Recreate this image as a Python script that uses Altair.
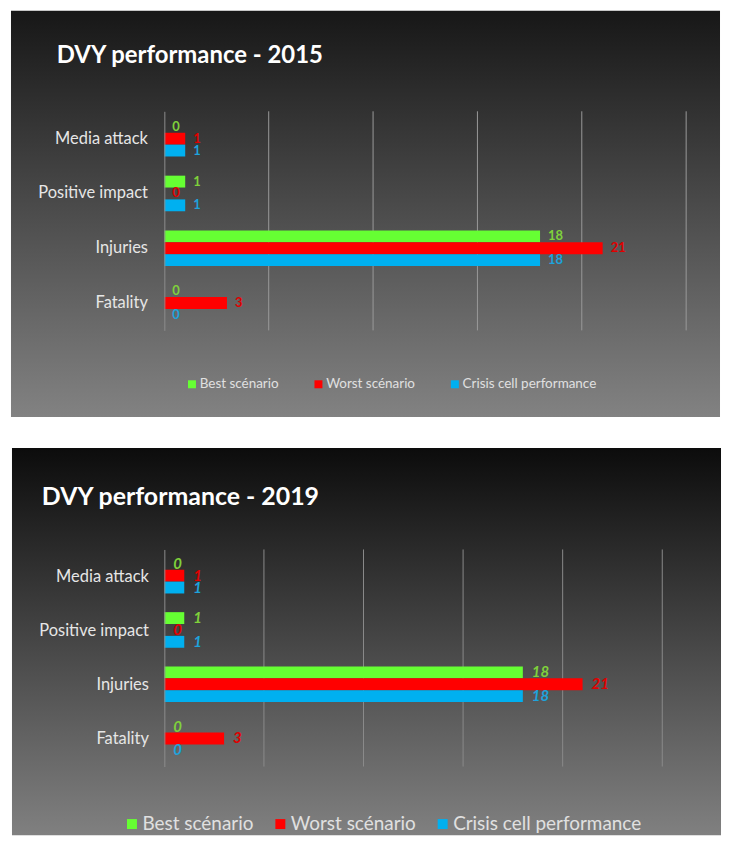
import altair as alt
import pandas as pd

categories = ["Media attack", "Positive impact", "Injuries", "Fatality"]
series = ["Best scénario", "Worst scénario", "Crisis cell performance"]
best_2015 = [0, 1, 18, 0]
worst_2015 = [1, 0, 21, 3]
crisis_2015 = [1, 1, 18, 0]
best_2019 = [0, 1, 18, 0]
worst_2019 = [1, 0, 21, 3]
crisis_2019 = [1, 1, 18, 0]
x_ticks = [0, 5, 10, 15, 20, 25]
titles = ["DVY performance - 2015", "DVY performance - 2019"]

bar_colors = ["#66ff33", "#ff0000", "#00b0f0"]
label_colors = ["#7fd13b", "#e00000", "#1ea3dc"]
FONT = "Lato"


def make_df(b, w, c):
    rows = []
    for s, vals in zip(series, [b, w, c]):
        for cat, v in zip(categories, vals):
            rows.append({"category": cat, "series": s, "value": v})
    return pd.DataFrame(rows)


def panel(df, title, p):
    xscale = alt.Scale(domain=[0, 25], nice=False, zero=True)
    yscale = alt.Scale(domain=categories, paddingInner=p["pad"], paddingOuter=p["pad"] / 2)

    grad = alt.Gradient(
        gradient="linear",
        stops=[alt.GradientStop(color=p["g0"], offset=0),
               alt.GradientStop(color=p["g1"], offset=1)],
        x1=0, x2=0, y1=0, y2=1,
    )
    bg = alt.Chart(pd.DataFrame({"a": [0]})).mark_rect(fill=grad).encode(
        x=alt.value(p["rx"][0]), x2=alt.value(p["rx"][1]),
        y=alt.value(p["ry"][0]), y2=alt.value(p["ry"][1]),
    )

    grid = alt.Chart(pd.DataFrame({"t": x_ticks[1:]})).mark_rule(
        color=p["gridColor"], strokeWidth=1
    ).encode(x=alt.X("t:Q", scale=xscale, axis=None))

    base = alt.Chart(df)
    bars = base.mark_bar().encode(
        x=alt.X("value:Q", scale=xscale,
                axis=alt.Axis(values=x_ticks, grid=False, ticks=False,
                              domain=p["xdomain"], domainColor="#9a9a9a",
                              labelColor="#d9d9d9", labelFont=FONT,
                              labelFontSize=13.5, labelFontWeight=p["xw"],
                              labelPadding=p["xpad"], title=None, zindex=1)),
        y=alt.Y("category:N", scale=yscale, sort=categories,
                axis=alt.Axis(title=None, ticks=False, domain=True,
                              domainColor="#8c8c8c", labelColor="#e6e6e6",
                              labelFont=FONT, labelFontSize=16.5,
                              labelPadding=p["ypad"], zindex=1)),
        yOffset=alt.YOffset("series:N", sort=series, scale=alt.Scale(domain=series, padding=0)),
        color=alt.Color("series:N", sort=series,
                        scale=alt.Scale(domain=series, range=bar_colors),
                        legend=alt.Legend(
                            title=None, orient="none", direction="horizontal",
                            legendX=p["lx"], legendY=p["ly"],
                            symbolType="square", symbolSize=p["ss"],
                            symbolStrokeWidth=0, labelColor="#e0e0e0",
                            labelFont=FONT, labelFontSize=p["lf"], labelLimit=400,
                            columnPadding=p["cp"], labelOffset=p["lo"], zindex=1)),
    )

    labels = base.mark_text(
        align="left", baseline="middle", dx=p["dx"], font=FONT,
        fontWeight="bold", fontStyle=p["fs"], fontSize=p["tf"],
    ).encode(
        x=alt.X("value:Q", scale=xscale),
        y=alt.Y("category:N", scale=yscale, sort=categories),
        yOffset=alt.YOffset("series:N", sort=series, scale=alt.Scale(domain=series, padding=0)),
        text=alt.Text("value:Q"),
        color=alt.Color("series:N", sort=series,
                        scale=alt.Scale(domain=series, range=label_colors),
                        legend=None),
    )

    ttl = alt.Chart(pd.DataFrame({"t": [title]})).mark_text(
        align="left", baseline="alphabetic", font=FONT, fontWeight="bold",
        fontSize=p["tsize"], color="white",
    ).encode(text="t:N", x=alt.value(p["tx"]), y=alt.value(p["ty"]))

    return alt.layer(bg, grid, bars, labels, ttl).resolve_scale(
        color="independent"
    ).properties(width=p["w"], height=p["h"])


p1 = dict(w=524, h=220, rx=(-154, 558), ry=(-101, 307), g0="#171717", g1="#828282",
          tx=-108, ty=-49, tsize=24, pad=0.35, ypad=17, xw="bold", xpad=12,
          xdomain=False, gridColor="#9a9a9a", dx=8, fs="normal", tf=13,
          lx=21, ly=267, ss=64, lf=13.5, cp=33, lo=1)
p2 = dict(w=500, h=218, rx=(-153, 559), ry=(-102, 287), g0="#0c0c0c", g1="#808080",
          tx=-123, ty=-45, tsize=25, pad=0.31, ypad=16, xw="normal", xpad=13,
          xdomain=True, gridColor="#8a8a8a", dx=9, fs="italic", tf=15,
          lx=-42, ly=266, ss=100, lf=19, cp=17, lo=1)

c1 = panel(make_df(best_2015, worst_2015, crisis_2015), titles[0], p1)
c2 = panel(make_df(best_2019, worst_2019, crisis_2019), titles[1], p2)

chart = alt.vconcat(c1, c2, spacing=29).properties(
    padding={"left": 2, "top": 0, "right": 0, "bottom": 0}
).configure_view(stroke=None).configure(background="white")

chart.save("out.html", embed_options={"renderer": "svg", "actions": False})
